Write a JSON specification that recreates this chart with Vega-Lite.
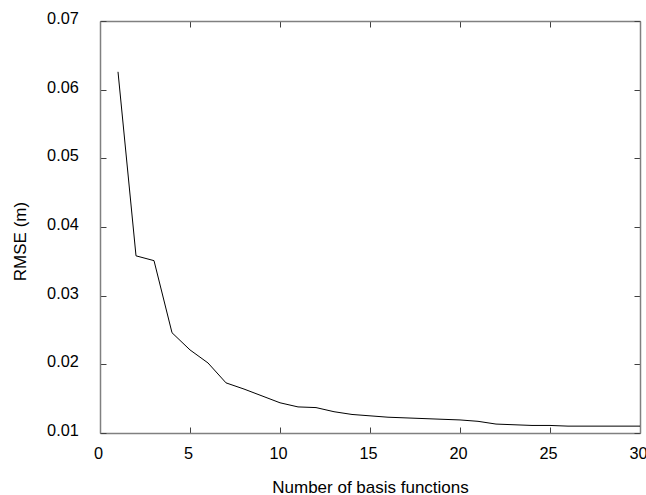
{
  "$schema": "https://vega.github.io/schema/vega-lite/v6.json",
  "autosize": "none",
  "width": 540,
  "height": 412,
  "padding": {"left": 100, "top": 21, "right": 6, "bottom": 62},
  "background": "white",
  "config": {
    "view": {"stroke": null},
    "axis": {"grid": false, "labelFont": "Liberation Sans", "titleFont": "Liberation Sans", "labelFontSize": 16.3, "titleFontSize": 17, "titleFontWeight": "normal", "labelColor": "#000", "titleColor": "#000", "domainColor": "#808080", "tickColor": "#404040", "tickSize": -6, "domainWidth": 1.5, "labelFlush": false}
  },
  "data": {"values": [
    {"n": 1, "rmse": 0.0626},
    {"n": 2, "rmse": 0.0358},
    {"n": 3, "rmse": 0.0351},
    {"n": 4, "rmse": 0.0246},
    {"n": 5, "rmse": 0.0221},
    {"n": 6, "rmse": 0.0202},
    {"n": 7, "rmse": 0.0173},
    {"n": 8, "rmse": 0.0164},
    {"n": 9, "rmse": 0.0154},
    {"n": 10, "rmse": 0.0144},
    {"n": 11, "rmse": 0.0138},
    {"n": 12, "rmse": 0.0137},
    {"n": 13, "rmse": 0.0131},
    {"n": 14, "rmse": 0.0127},
    {"n": 15, "rmse": 0.0125},
    {"n": 16, "rmse": 0.0123},
    {"n": 17, "rmse": 0.0122},
    {"n": 18, "rmse": 0.0121},
    {"n": 19, "rmse": 0.0120},
    {"n": 20, "rmse": 0.0119},
    {"n": 21, "rmse": 0.0117},
    {"n": 22, "rmse": 0.0113},
    {"n": 23, "rmse": 0.0112},
    {"n": 24, "rmse": 0.0111},
    {"n": 25, "rmse": 0.0111},
    {"n": 26, "rmse": 0.0110},
    {"n": 27, "rmse": 0.0110},
    {"n": 28, "rmse": 0.0110},
    {"n": 29, "rmse": 0.0110},
    {"n": 30, "rmse": 0.0110}
  ]},
  "resolve": {"axis": {"x": "independent", "y": "independent"}},
  "layer": [
    {
      "mark": {"type": "line", "color": "#000", "strokeWidth": 1},
      "encoding": {
        "x": {"field": "n", "type": "quantitative", "scale": {"domain": [0, 30], "nice": false, "zero": false},
          "axis": {"orient": "bottom", "title": "Number of basis functions", "values": [0, 5, 10, 15, 20, 25, 30], "labelPadding": 18.5, "labelOffset": -2, "titleY": 46, "titleBaseline": "top"}},
        "y": {"field": "rmse", "type": "quantitative", "scale": {"domain": [0.01, 0.07], "nice": false, "zero": false},
          "axis": {"orient": "left", "title": "RMSE (m)", "values": [0.01, 0.02, 0.03, 0.04, 0.05, 0.06, 0.07], "format": ".2f", "labelPadding": 27.7, "labelOffset": -2.5, "titleX": -80, "titleY": 220, "titleBaseline": "middle", "titleAngle": -90}}
      }
    },
    {
      "mark": {"type": "line", "opacity": 0},
      "encoding": {
        "x": {"field": "n", "type": "quantitative", "scale": {"domain": [0, 30], "nice": false, "zero": false},
          "axis": {"orient": "top", "title": null, "labels": false, "values": [0, 5, 10, 15, 20, 25, 30]}},
        "y": {"field": "rmse", "type": "quantitative", "scale": {"domain": [0.01, 0.07], "nice": false, "zero": false},
          "axis": {"orient": "right", "title": null, "labels": false, "values": [0.01, 0.02, 0.03, 0.04, 0.05, 0.06, 0.07]}}
      }
    }
  ]
}
